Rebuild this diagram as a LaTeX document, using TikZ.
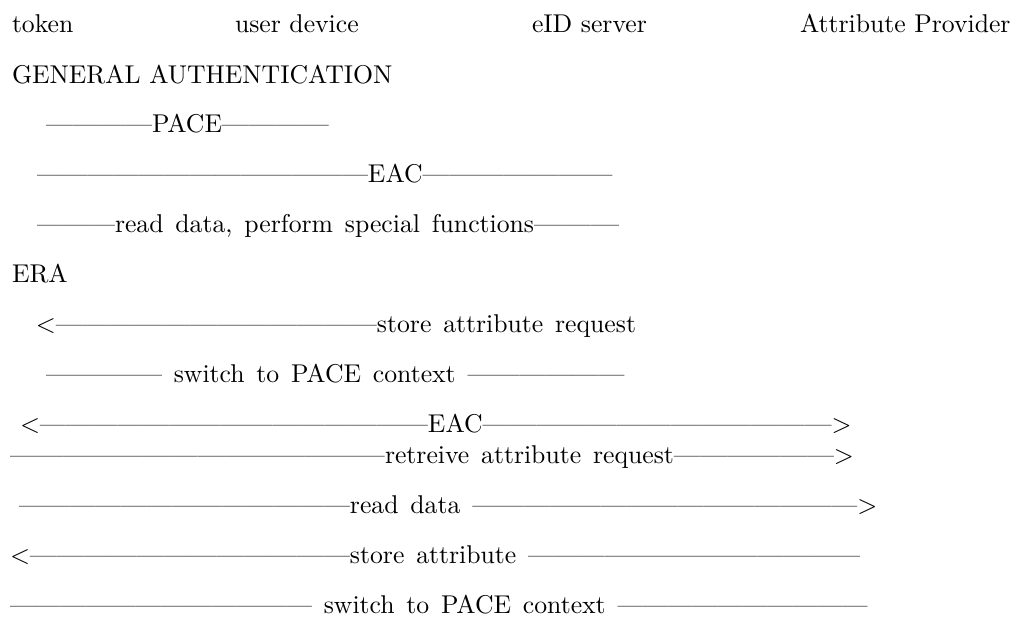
\documentclass[tikz,border=0pt]{standalone}
\usepackage{graphicx}
% one drawing unit = one pixel of the final sheet
\newdimen\pxu \pxu=0.3891pt
\ExplSyntaxOn
\cs_new:Npn \emdashes #1 { \prg_replicate:nn {#1} {---} }
\ExplSyntaxOff
% a run of #1 em dashes stretched to #2 units
\newcommand\dashrun[2]{\resizebox{#2\pxu}{\height}{\emdashes{#1}}}
\tikzset{
  textrow/.style={anchor=base west, inner sep=0pt, outer sep=0pt},
  participant/.style={textrow},
  phase/.style={textrow},
  message/.style={textrow, execute at begin node={\spaceskip=4.6pt\relax}}
}
\begin{document}
\begin{tikzpicture}[x=0.3891pt, y=-0.3891pt]
\useasboundingbox (0,0) rectangle (1026,617);

% parties
\node[participant] (token)    at (12,32)  {token};
\node[participant] (device)   at (235,32) {user device};
\node[participant] (server)   at (532,32) {eID server};
\node[participant] (provider) at (800,32) {Attribute Provider};

% first phase
\node[phase] (ga) at (12,83) {GENERAL AUTHENTICATION};
\node[message] (pace1) at (46,132) {\dashrun{4}{106}PACE\dashrun{4}{107}};
\node[message] (eac1)  at (37,182) {\dashrun{13}{331}EAC\dashrun{7}{190}};
\node[message] (read1) at (37,232) {\dashrun{3}{78}read data, perform special functions\dashrun{3}{85}};

% second phase
\node[phase] (era) at (12,282) {ERA};
\node[message] (storereq) at (36,332) {<\dashrun{12}{321}store attribute request};
\node[message] (pace2)    at (46,382) {\dashrun{4}{116} switch to PACE context \dashrun{6}{157}};
\node[message] (eac2)     at (20,432) {<\dashrun{15}{388}EAC\dashrun{13}{349}>};
\node[message] (retr)     at (10,463) {\dashrun{14}{375}retreive attribute request\dashrun{6}{160}>};
\node[message] (read2)    at (19,513) {\dashrun{13}{331}read data \dashrun{15}{385}>};
\node[message] (store)    at (10,563) {<\dashrun{12}{320}store attribute \dashrun{13}{332}};
\node[message] (pace3)    at (10,613) {\dashrun{12}{302} switch to PACE context \dashrun{10}{250}};
\end{tikzpicture}
\end{document}
